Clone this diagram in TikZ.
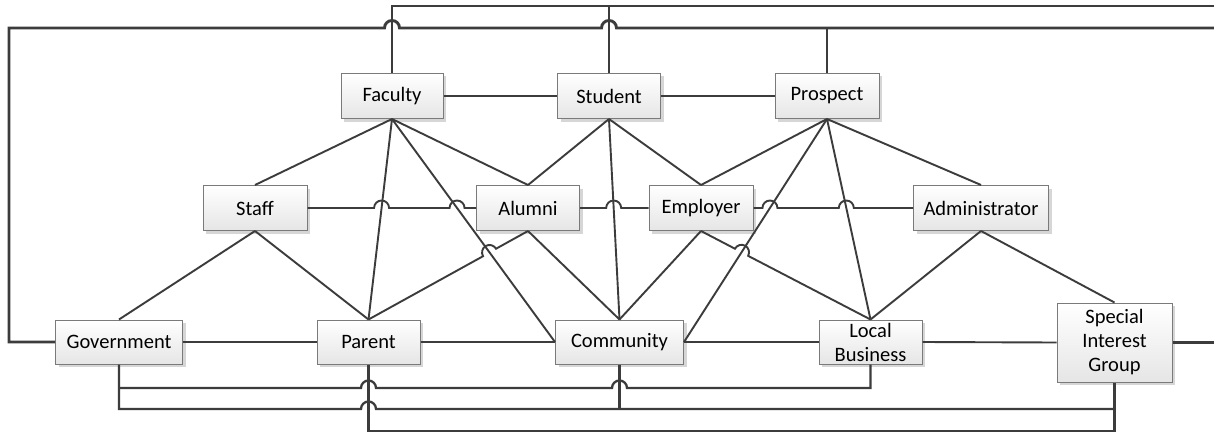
\documentclass[tikz,border=0pt]{standalone}
\usepackage{fontspec}
\setmainfont{Carlito}
\usetikzlibrary{calc,intersections,shadows}
\definecolor{linec}{HTML}{3C3C3C}
\definecolor{boxline}{HTML}{7A7A7A}
\begin{document}
\begin{tikzpicture}[x=1pt,y=1pt,
  box/.style={draw=boxline, line width=1pt, top color=white, bottom color=black!10,
    drop shadow={shadow xshift=3pt, shadow yshift=-3pt, fill=black!16, opacity=1},
    inner sep=0pt, align=center, font=\fontsize{20.5}{24}\selectfont, text=black},
  conn/.style={draw=linec, line width=1.9pt},
  route/.style={draw=linec, line width=2.3pt},
  heavy/.style={draw=linec, line width=2.9pt},
]
\useasboundingbox (0,0) rectangle (1214,-433);
\fill[white] (0,0) rectangle (1214,-433);

% nodes
\node[box, minimum width=102pt, minimum height=45pt] (faculty)  at (392,-96)  {Faculty};
\node[box, minimum width=103pt, minimum height=45pt] (student)  at (609,-96)  {Student};
\node[box, minimum width=104pt, minimum height=45pt] (prospect) at (827,-96)  {Prospect};
\node[box, minimum width=104pt, minimum height=45pt] (staff)    at (255,-208) {Staff};
\node[box, minimum width=103pt, minimum height=45pt] (alumni)   at (528,-208) {Alumni};
\node[box, minimum width=104pt, minimum height=45pt] (employer) at (701,-208) {Employer};
\node[box, minimum width=135pt, minimum height=45pt] (admin)    at (981,-208) {Administrator};
\node[box, minimum width=127pt, minimum height=44pt] (gov)      at (119,-342)   {Government};
\node[box, minimum width=103pt, minimum height=44pt] (parent)   at (368.5,-342) {Parent};
\node[box, minimum width=128pt, minimum height=44pt] (community) at (619.5,-342) {Community};
\node[box, minimum width=103pt, minimum height=44pt] (localbiz) at (870.5,-342) {Local\\Business};
\node[box, minimum width=115pt, minimum height=79pt] (sig)      at (1114.5,-342.5) {Special\\Interest\\Group};

% routing rows
\coordinate (rowA) at (0,-6);
\coordinate (rowB) at (0,-28);
\coordinate (rowC) at (0,-388);
\coordinate (rowD) at (0,-409);
\coordinate (rowE) at (0,-431);
\coordinate (leftX) at (9,0);
\coordinate (rightX) at (1216,0);

% crossing lines (drawn first)
\draw[conn, name path=fp] (faculty.south) -- (parent.north);
\draw[conn, name path=fc] (faculty.south) -- (community.west);
\draw[conn, name path=sc] (student.south) -- (community.north);
\draw[conn, name path=pc] (prospect.south) -- (community.east);
\draw[conn, name path=pl] (prospect.south) -- (localbiz.north);

% other direct lines
\draw[conn] (faculty.east) -- (student.west);
\draw[conn] (student.east) -- (prospect.west);
\draw[conn] (faculty.south) -- (staff.north);
\draw[conn] (faculty.south) -- (alumni.north);
\draw[conn] (student.south) -- (alumni.north);
\draw[conn] (student.south) -- (employer.north);
\draw[conn] (prospect.south) -- (employer.north);
\draw[conn] (prospect.south) -- (admin.north);
\draw[conn] (staff.south) -- (gov.north);
\draw[conn] (staff.south) -- (parent.north);
\draw[conn] (alumni.south) -- (community.north);
\draw[conn] (employer.south) -- (community.north);
\draw[conn] (admin.south) -- (localbiz.north);
\draw[conn] (admin.south) -- (sig.north);
\draw[conn] (gov.east) -- (parent.west);
\draw[conn] (parent.east) -- (community.west);
\draw[conn] (community.east) -- (localbiz.west);
\draw[conn] (localbiz.east) -- (sig.west);

% lines with hops
\path[name path=sa] (staff.east) -- (alumni.west);
\path[name intersections={of=sa and fp, by=h1}];
\path[name intersections={of=sa and fc, by=h2}];
\draw[conn] (staff.east) -- ($(h1)+(-7.5,0)$) arc[start angle=180, end angle=0, radius=7.5pt]
  -- ($(h2)+(-7.5,0)$) arc[start angle=180, end angle=0, radius=7.5pt] -- (alumni.west);

\path[name path=ae] (alumni.east) -- (employer.west);
\path[name intersections={of=ae and sc, by=h3}];
\draw[conn] (alumni.east) -- ($(h3)+(-7.5,0)$) arc[start angle=180, end angle=0, radius=7.5pt] -- (employer.west);

\path[name path=ea] (employer.east) -- (admin.west);
\path[name intersections={of=ea and pc, by=h4}];
\path[name intersections={of=ea and pl, by=h5}];
\draw[conn] (employer.east) -- ($(h4)+(-7.5,0)$) arc[start angle=180, end angle=0, radius=7.5pt]
  -- ($(h5)+(-7.5,0)$) arc[start angle=180, end angle=0, radius=7.5pt] -- (admin.west);

\path[name path=ap] (alumni.south) -- (parent.north);
\path[name intersections={of=ap and fc, by=h6}];
\draw[conn] (alumni.south) -- ($(h6)!7.5pt!(alumni.south)$)
  arc[start angle=29.9, end angle=209.9, radius=7.5pt] -- (parent.north);

\path[name path=el] (employer.south) -- (localbiz.north);
\path[name intersections={of=el and pc, by=h7}];
\draw[conn] (employer.south) -- ($(h7)!7.5pt!(employer.south)$)
  arc[start angle=151.6, end angle=-28.4, radius=7.5pt] -- (localbiz.north);

% top routes
\draw[route] (faculty.north) |- (rightX |- rowA);
\draw[route] (student.north) -- (student.north |- rowA);
\draw[route] (prospect.north) -- (prospect.north |- rowB);
\draw[heavy] (gov.west) -| (leftX |- rowB)
  -- ($(faculty.north |- rowB)+(-7.5,0)$) arc[start angle=180, end angle=0, radius=7.5pt]
  -- ($(student.north |- rowB)+(-7.5,0)$) arc[start angle=180, end angle=0, radius=7.5pt]
  -- (rightX |- rowB);
\draw[heavy] (sig.east) -- (sig.east -| rightX);

% bottom routes
\draw[route] (parent.south) |- (rowE -| sig.south) -- (sig.south);
\draw[route] (community.south) -- (community.south |- rowD);
\draw[route] (gov.south) -- (gov.south |- rowD)
  -- ($(parent.south |- rowD)+(-7.5,0)$) arc[start angle=180, end angle=0, radius=7.5pt]
  -- (sig.south |- rowD);
\draw[route] (gov.south |- rowC)
  -- ($(parent.south |- rowC)+(-7.5,0)$) arc[start angle=180, end angle=0, radius=7.5pt]
  -- ($(community.south |- rowC)+(-7.5,0)$) arc[start angle=180, end angle=0, radius=7.5pt]
  -- (localbiz.south |- rowC) -- (localbiz.south);
\end{tikzpicture}
\end{document}
